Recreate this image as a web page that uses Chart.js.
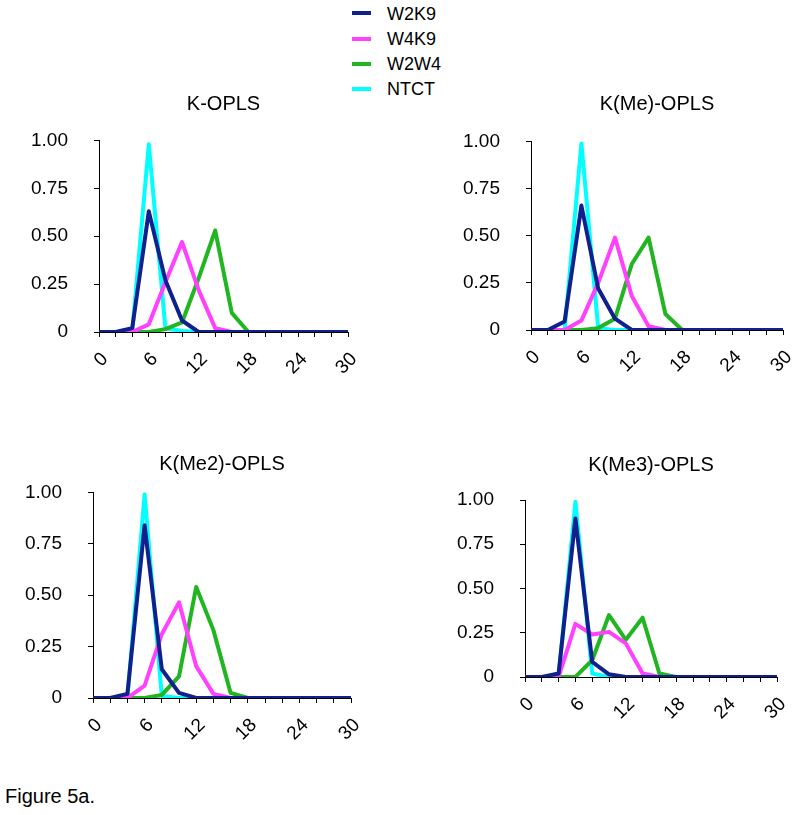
<!DOCTYPE html>
<html>
<head>
<meta charset="utf-8">
<script src="https://cdn.jsdelivr.net/npm/chart.js@4.4.1/dist/chart.umd.min.js"></script>
<style>
  body { margin: 0; background: #fff; font-family: Arial, "Liberation Sans", sans-serif; }
  #page { position: relative; width: 800px; height: 815px; overflow: hidden; }
  #page canvas { position: absolute; }
  .leg-line { position: absolute; left: 352px; width: 19px; height: 4px; }
  .leg-text { position: absolute; left: 387px; font-size: 18px; line-height: 18px; color: #000; }
  #caption { position: absolute; left: 5px; top: 786px; font-size: 20px; line-height: 20px; color: #000; }
</style>
</head>
<body>
<div id="page">
  <div id="caption">Figure 5a.</div>
</div>
<script>
// eixo x (0..30, passo 2) e séries
const xValues = [0, 2, 4, 6, 8, 10, 12, 14, 16, 18, 20, 22, 24, 26, 28, 30];
const seriesNames = ['W2K9', 'W4K9', 'W2W4', 'NTCT'];
const seriesColors = ['#10208c', '#ff40ff', '#22b522', '#00ffff'];
const yTicks = [0, 0.25, 0.5, 0.75, 1];
const xLabelStep = 6;

// K-OPLS
const kOplsW2K9 = [0, 0, 0.02, 0.63, 0.27, 0.06, 0, 0, 0, 0, 0, 0, 0, 0, 0, 0];
const kOplsW4K9 = [0, 0, 0, 0.04, 0.26, 0.47, 0.22, 0.02, 0, 0, 0, 0, 0, 0, 0, 0];
const kOplsW2W4 = [0, 0, 0, 0, 0.015, 0.05, 0.28, 0.53, 0.1, 0, 0, 0, 0, 0, 0, 0];
const kOplsNTCT = [0, 0, 0, 0.98, 0.02, 0.005, 0, 0, 0, 0, 0, 0, 0, 0, 0, 0];

// K(Me)-OPLS
const kMeW2K9 = [0, 0, 0.045, 0.66, 0.22, 0.06, 0, 0, 0, 0, 0, 0, 0, 0, 0, 0];
const kMeW4K9 = [0, 0, 0, 0.05, 0.25, 0.49, 0.18, 0.02, 0, 0, 0, 0, 0, 0, 0, 0];
const kMeW2W4 = [0, 0, 0, 0, 0.01, 0.06, 0.35, 0.49, 0.085, 0, 0, 0, 0, 0, 0, 0];
const kMeNTCT = [0, 0, 0, 0.99, 0.01, 0, 0, 0, 0, 0, 0, 0, 0, 0, 0, 0];

// K(Me2)-OPLS
const kMe2W2K9 = [0, 0, 0.02, 0.84, 0.14, 0.025, 0, 0, 0, 0, 0, 0, 0, 0, 0, 0];
const kMe2W4K9 = [0, 0, 0, 0.06, 0.31, 0.465, 0.155, 0.02, 0, 0, 0, 0, 0, 0, 0, 0];
const kMe2W2W4 = [0, 0, 0, 0, 0.015, 0.105, 0.54, 0.33, 0.025, 0, 0, 0, 0, 0, 0, 0];
const kMe2NTCT = [0, 0, 0, 0.99, 0.01, 0, 0, 0, 0, 0, 0, 0, 0, 0, 0, 0];

// K(Me3)-OPLS
const kMe3W2K9 = [0, 0, 0.02, 0.895, 0.085, 0.015, 0, 0, 0, 0, 0, 0, 0, 0, 0, 0];
const kMe3W4K9 = [0, 0, 0, 0.30, 0.24, 0.255, 0.19, 0.02, 0, 0, 0, 0, 0, 0, 0, 0];
const kMe3W2W4 = [0, 0, 0, 0, 0.095, 0.35, 0.21, 0.335, 0.02, 0, 0, 0, 0, 0, 0, 0];
const kMe3NTCT = [0, 0, 0, 0.99, 0.02, 0, 0, 0, 0, 0, 0, 0, 0, 0, 0, 0];

const panels = [
  { title: 'K-OPLS', series: [kOplsW2K9, kOplsW4K9, kOplsW2W4, kOplsNTCT],
    box: { L: 99, T: 140.5, R: 348, B: 331.5, titleY: 104 } },
  { title: 'K(Me)-OPLS', series: [kMeW2K9, kMeW4K9, kMeW2W4, kMeNTCT],
    box: { L: 531, T: 141.5, R: 783, B: 330, titleY: 104 } },
  { title: 'K(Me2)-OPLS', series: [kMe2W2K9, kMe2W4K9, kMe2W2W4, kMe2NTCT],
    box: { L: 93, T: 492.3, R: 351, B: 698.3, titleY: 464 } },
  { title: 'K(Me3)-OPLS', series: [kMe3W2K9, kMe3W4K9, kMe3W2W4, kMe3NTCT],
    box: { L: 525, T: 500, R: 777.3, B: 676.7, titleY: 464.5 } }
];

const page = document.getElementById('page');

// legenda
seriesNames.forEach((nome, k) => {
  const y = 13.3 + 25.3 * k;
  const linha = document.createElement('div');
  linha.className = 'leg-line';
  linha.style.top = (y - 2) + 'px';
  linha.style.background = seriesColors[k];
  page.appendChild(linha);
  const texto = document.createElement('div');
  texto.className = 'leg-text';
  texto.style.top = (y - 8.8) + 'px';
  texto.textContent = nome;
  page.appendChild(texto);
});

const fonteEixo = { family: 'Arial, "Liberation Sans", sans-serif', size: 19 };
const fonteTitulo = { family: 'Arial, "Liberation Sans", sans-serif', size: 20, weight: 'normal' };

function criaPainel(painel) {
  const box = painel.box;
  // padR maior que o padding que o eixo x pede para o último rótulo girado
  const yAxisW = 90, xAxisH = 60, padR = 34, lh = fonteTitulo.size * 1.2;
  const left = box.L - yAxisW;
  const top = Math.round(box.titleY - lh / 2);
  const width = Math.round(box.R - left + padR);
  const height = Math.round(box.B - top + xAxisH);

  const canvas = document.createElement('canvas');
  canvas.width = width;
  canvas.height = height;
  canvas.style.left = left + 'px';
  canvas.style.top = top + 'px';
  canvas.style.width = width + 'px';
  canvas.style.height = height + 'px';
  page.appendChild(canvas);

  new Chart(canvas, {
    type: 'line',
    data: {
      datasets: seriesNames.map((nome, k) => ({
        label: nome,
        data: xValues.map((x, i) => ({ x: x, y: painel.series[k][i] })),
        borderColor: seriesColors[k],
        backgroundColor: seriesColors[k],
        borderWidth: 4,
        borderJoinStyle: 'round',
        pointRadius: 0,
        tension: 0,
        order: k
      }))
    },
    options: {
      responsive: false,
      animation: false,
      devicePixelRatio: 1,
      layout: { padding: { left: 0, right: padR, top: 0, bottom: 0 } },
      plugins: {
        legend: { display: false },
        tooltip: { enabled: false },
        title: {
          display: true,
          fullSize: false,   // centraliza sobre a área do gráfico
          text: painel.title,
          color: '#000',
          font: fonteTitulo,
          padding: { top: 0, bottom: box.T - top - lh }
        }
      },
      scales: {
        x: {
          type: 'linear',
          min: xValues[0],
          max: xValues[xValues.length - 1],
          afterFit(s) { s.height = xAxisH; },
          ticks: {
            stepSize: 2,
            autoSkip: false,
            minRotation: 45,
            maxRotation: 45,
            padding: 11,
            labelOffset: 6,
            color: '#000',
            font: fonteEixo,
            callback: v => (v % xLabelStep === 0 ? String(v) : '')
          },
          grid: { drawOnChartArea: false, drawTicks: true, tickLength: 5, color: '#000', lineWidth: 1 },
          border: { display: true, color: '#000', width: 1 }
        },
        y: {
          min: yTicks[0],
          max: yTicks[yTicks.length - 1],
          afterFit(s) { s.width = yAxisW; },
          ticks: {
            stepSize: 0.25,
            padding: 26,
            color: '#000',
            font: fonteEixo,
            callback: v => (v === 0 ? '0' : v.toFixed(2))
          },
          grid: { drawOnChartArea: false, drawTicks: true, tickLength: 5, color: '#000', lineWidth: 1 },
          border: { display: true, color: '#000', width: 1 }
        }
      }
    }
  });
}

panels.forEach(criaPainel);
</script>
</body>
</html>
